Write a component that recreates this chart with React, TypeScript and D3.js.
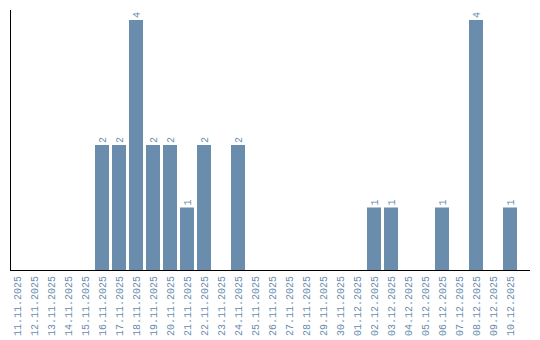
import React from "react";
import * as d3 from "d3";

const dates = [
  "11.11.2025","12.11.2025","13.11.2025","14.11.2025","15.11.2025","16.11.2025",
  "17.11.2025","18.11.2025","19.11.2025","20.11.2025","21.11.2025","22.11.2025",
  "23.11.2025","24.11.2025","25.11.2025","26.11.2025","27.11.2025","28.11.2025",
  "29.11.2025","30.11.2025","01.12.2025","02.12.2025","03.12.2025","04.12.2025",
  "05.12.2025","06.12.2025","07.12.2025","08.12.2025","09.12.2025","10.12.2025",
];
const counts = [0,0,0,0,0,2,2,4,2,2,1,2,0,2,0,0,0,0,0,0,0,1,1,0,0,1,0,4,0,1];

const W = 540, H = 340;
const COLOR = "#6a8cad";
const FONT = "'Liberation Mono', 'Courier New', monospace";

export default function App() {
  const x = d3.scaleBand<string>().domain(dates).range([10, 517]).paddingInner(3 / 17).paddingOuter(0);
  const y = d3.scaleLinear().domain([0, 4]).range([270, 20]);
  return (
    <svg width={W} height={H} style={{ position: "absolute", left: 0, top: 0, background: "#fff" }}>
      {dates.map((d, i) => {
        const v = counts[i];
        const bx = x(d)!;
        const cx = bx + x.bandwidth() / 2;
        return (
          <g key={d}>
            {v > 0 && (
              <>
                <rect x={bx} y={y(v)} width={x.bandwidth()} height={y(0) - y(v)} fill={COLOR} />
                <text transform={`translate(${cx + 3.5},${y(v) - 2}) rotate(-90)`} fontSize={10} fontFamily={FONT} fill={COLOR} textAnchor="start">{v}</text>
              </>
            )}
            <text transform={`translate(${cx + 3.5},276) rotate(-90)`} fontSize={10} fontFamily={FONT} fill={COLOR} textAnchor="end">{d}</text>
          </g>
        );
      })}
      <line x1={10.5} x2={10.5} y1={10} y2={270} stroke="#000" />
      <line x1={10} x2={530} y1={270.5} y2={270.5} stroke="#000" />
    </svg>
  );
}
